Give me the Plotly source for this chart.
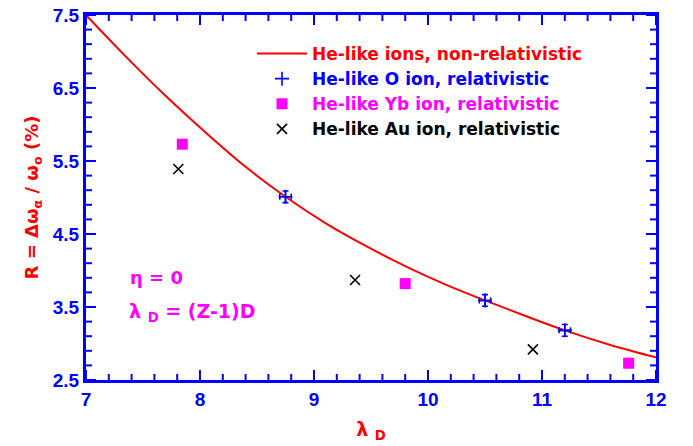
import plotly.graph_objects as go

# Non-relativistic curve
curve_lambda = [7.0, 7.35, 7.7, 8.05, 8.4, 8.75, 9.1, 9.45, 9.8, 10.15, 10.5, 10.85, 11.2, 11.6, 12.0]
curve_r = [7.5, 6.93, 6.39, 5.89, 5.42, 5.01, 4.65, 4.34, 4.06, 3.81, 3.59, 3.38, 3.18, 2.98, 2.81]

# He-like O ion, relativistic
o_lambda = [8.75, 10.5, 11.2]
o_r = [5.01, 3.59, 3.18]
o_err_lambda = [0.05, 0.05, 0.05]
o_err_r = [0.08, 0.08, 0.08]

# He-like Yb ion, relativistic
yb_lambda = [7.845, 9.80, 11.76]
yb_r = [5.73, 3.82, 2.73]

# He-like Au ion, relativistic
au_lambda = [7.81, 9.36, 10.92]
au_r = [5.39, 3.87, 2.92]

# axes
X_RANGE = [7, 12]
Y_RANGE = [2.5, 7.5]
x_major_ticks = [7, 8, 9, 10, 11, 12]
y_major_ticks = [2.5, 3.5, 4.5, 5.5, 6.5, 7.5]
MINOR_STEP = 0.2

BLUE = "#0000ff"
RED = "#ff0000"
MAG = "#ff00ff"

# plot area in pixels (for inward tick lengths)
PLOT_W, PLOT_H = 570, 365
MAJ_PX, MIN_PX = 10, 6

fig = go.Figure()
fig.add_trace(go.Scatter(
    x=curve_lambda, y=curve_r, mode="lines", line=dict(color=RED, width=2, shape="spline"),
    name="<span style='color:#ff0000'>He-like ions, non-relativistic</span>"))
fig.add_trace(go.Scatter(
    x=o_lambda, y=o_r, mode="markers",
    marker=dict(symbol="cross-thin", size=10, color=BLUE, line=dict(color=BLUE, width=1.6)),
    error_x=dict(type="data", array=o_err_lambda, color=BLUE, thickness=1.6, width=3),
    error_y=dict(type="data", array=o_err_r, color=BLUE, thickness=1.6, width=3),
    name="<span style='color:#0000ff'>He-like O ion, relativistic</span>"))
fig.add_trace(go.Scatter(
    x=yb_lambda, y=yb_r, mode="markers",
    marker=dict(symbol="square", size=11, color=MAG),
    name="<span style='color:#ff00ff'>He-like Yb ion, relativistic</span>"))
fig.add_trace(go.Scatter(
    x=au_lambda, y=au_r, mode="markers",
    marker=dict(symbol="x-thin", size=10, color="black", line=dict(color="black", width=1.6)),
    name="<span style='color:#000000'>He-like Au ion, relativistic</span>"))

# inward tick marks on all four sides (major + minor)
def ticks_between(lo, hi, step):
    n = int(round((hi - lo) / step))
    return [round(lo + k * step, 6) for k in range(n + 1)]

x_all = ticks_between(X_RANGE[0], X_RANGE[1], MINOR_STEP)
y_all = ticks_between(Y_RANGE[0], Y_RANGE[1], MINOR_STEP)
x_is_major = [any(abs(v - m) < 1e-6 for m in x_major_ticks) for v in x_all]
y_is_major = [any(abs(v - m) < 1e-6 for m in y_major_ticks) for v in y_all]
y_unit_px = PLOT_H / (Y_RANGE[1] - Y_RANGE[0])
x_unit_px = PLOT_W / (X_RANGE[1] - X_RANGE[0])
x_tick_len = [(MAJ_PX if m else MIN_PX) / y_unit_px for m in x_is_major]
y_tick_len = [(MAJ_PX if m else MIN_PX) / x_unit_px for m in y_is_major]
zx = [0] * len(x_all)
zy = [0] * len(y_all)
tick_marker = dict(size=1, color="rgba(0,0,0,0)")

def vbar(plus, minus):
    return dict(type="data", symmetric=False, array=plus, arrayminus=minus,
                color=BLUE, thickness=2, width=0)

fig.add_trace(go.Scatter(x=x_all, y=[Y_RANGE[0]] * len(x_all), mode="markers", marker=tick_marker,
                         error_y=vbar(x_tick_len, zx), showlegend=False, hoverinfo="skip"))
fig.add_trace(go.Scatter(x=x_all, y=[Y_RANGE[1]] * len(x_all), mode="markers", marker=tick_marker,
                         error_y=vbar(zx, x_tick_len), showlegend=False, hoverinfo="skip"))
fig.add_trace(go.Scatter(x=[X_RANGE[0]] * len(y_all), y=y_all, mode="markers", marker=tick_marker,
                         error_x=vbar(y_tick_len, zy), showlegend=False, hoverinfo="skip"))
fig.add_trace(go.Scatter(x=[X_RANGE[1]] * len(y_all), y=y_all, mode="markers", marker=tick_marker,
                         error_x=vbar(zy, y_tick_len), showlegend=False, hoverinfo="skip"))

tickfont = dict(family="Liberation Sans", size=19, color=BLUE, weight="bold")

fig.update_layout(
    template="none",
    width=693, height=446,
    margin=dict(l=86, r=37, t=15, b=66),
    paper_bgcolor="white", plot_bgcolor="white",
    showlegend=True,
    xaxis=dict(range=X_RANGE, tickmode="array", tickvals=x_major_ticks,
               ticktext=[str(v) for v in x_major_ticks], ticks="",
               showline=True, linecolor=BLUE, linewidth=3, mirror=True,
               showgrid=False, zeroline=False, tickfont=tickfont,
               title=dict(text="<b>λ <sub>D</sub></b>", standoff=14,
                          font=dict(family="DejaVu Sans", size=19, color=RED))),
    yaxis=dict(range=Y_RANGE, tickmode="array", tickvals=y_major_ticks,
               ticktext=[f"{v:.1f}" for v in y_major_ticks], ticks="",
               showline=True, linecolor=BLUE, linewidth=3, mirror=True,
               showgrid=False, zeroline=False, tickfont=tickfont,
               title=dict(text="<b>R = Δω<sub>α</sub> / ω<sub>o</sub> (%)</b>", standoff=10,
                          font=dict(family="DejaVu Sans", size=18, color=RED))),
    legend=dict(x=(252 - 86) / 570, y=(380 - 36) / 365, xanchor="left", yanchor="top",
                bgcolor="rgba(0,0,0,0)", itemwidth=50, tracegroupgap=0,
                font=dict(family="DejaVu Sans", size=17, weight="bold")),
)

fig.add_annotation(xref="paper", yref="paper", x=(128 - 86) / 570, y=(380 - 277) / 365,
                   xanchor="left", yanchor="middle", showarrow=False,
                   text="<b>η = 0</b>",
                   font=dict(family="DejaVu Sans", size=18, color=MAG))
fig.add_annotation(xref="paper", yref="paper", x=(127 - 86) / 570, y=(380 - 312) / 365,
                   xanchor="left", yanchor="middle", showarrow=False,
                   text="<b>λ <sub>D</sub> = (Z-1)D</b>",
                   font=dict(family="DejaVu Sans", size=19, color=MAG))

fig.write_html("out.html")
